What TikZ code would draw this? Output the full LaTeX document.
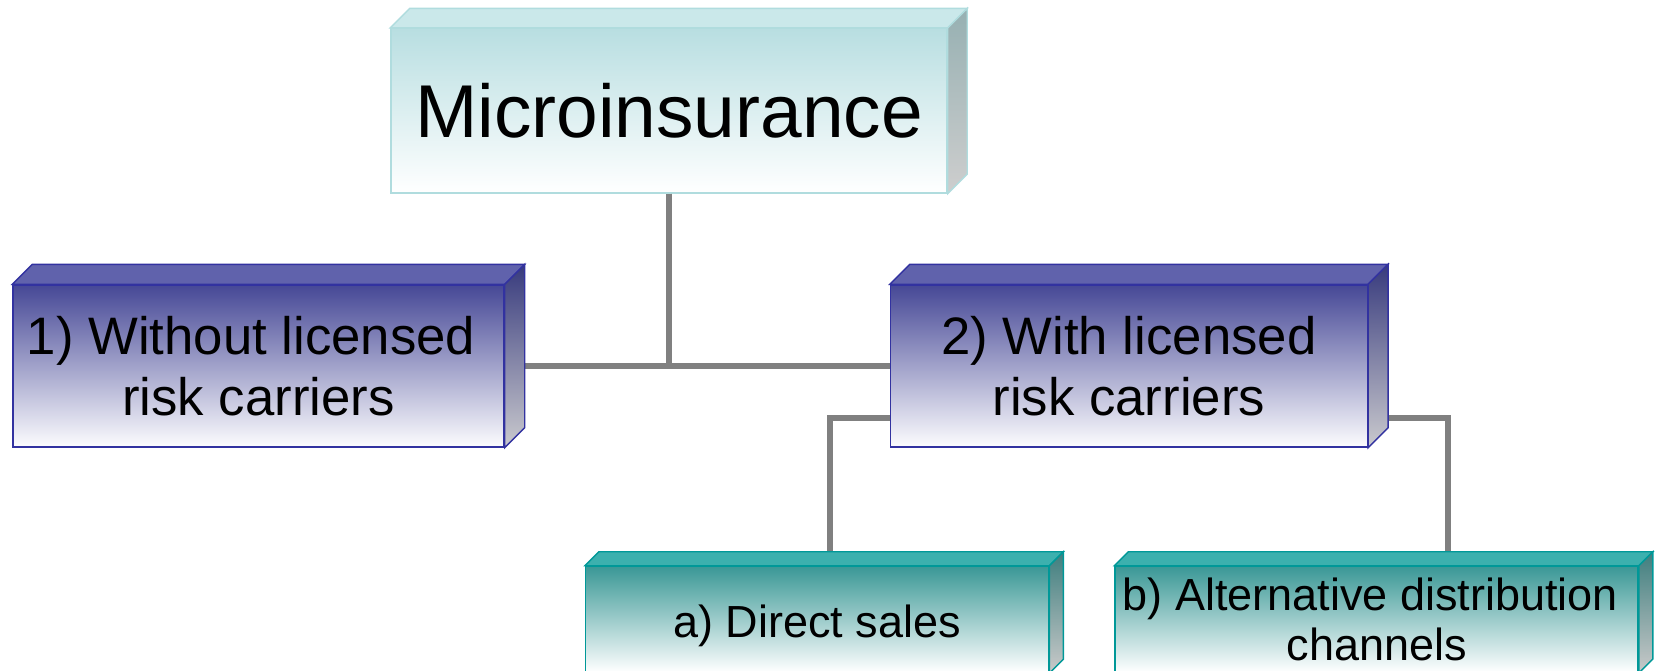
\documentclass[tikz,border=0pt]{standalone}
\usepackage{fontspec}
\setmainfont{Liberation Sans}
\usepackage{tikz}
\usetikzlibrary{positioning}

\definecolor{lighttop}{RGB}{184,222,225}
\definecolor{lightmid}{RGB}{222,240,241}
\definecolor{lightedge}{RGB}{176,220,222}
\definecolor{lightcap}{RGB}{202,232,234}
\definecolor{lightsideA}{RGB}{150,176,178}
\definecolor{lightsideB}{RGB}{206,206,206}
\definecolor{bluetop}{RGB}{70,72,150}
\definecolor{bluemid}{RGB}{198,198,224}
\definecolor{bluebottom}{RGB}{252,252,254}
\definecolor{blueedge}{RGB}{50,50,160}
\definecolor{bluecap}{RGB}{96,98,172}
\definecolor{bluesideA}{RGB}{55,58,125}
\definecolor{bluesideB}{RGB}{202,202,206}
\definecolor{tealtop}{RGB}{58,152,150}
\definecolor{tealmid}{RGB}{172,208,206}
\definecolor{tealedge}{RGB}{0,152,152}
\definecolor{tealcap}{RGB}{60,176,174}
\definecolor{tealsideA}{RGB}{62,126,126}
\definecolor{tealsideB}{RGB}{202,202,202}
\definecolor{linegray}{RGB}{128,128,128}

\begin{document}
\begin{tikzpicture}
 	\tikzstyle{box}=[rectangle, inner sep=0pt, align=center, line width=0.8pt]
 	\tikzstyle{mainbox}=[box, draw=lightedge, top color=lighttop, middle color=lightmid, bottom color=white, minimum width=11.12cm, minimum height=3.29cm, font=\fontsize{42.6}{50}\selectfont]
 	\tikzstyle{carrier}=[box, draw=blueedge, top color=bluetop, middle color=bluemid, bottom color=bluebottom, minimum height=3.24cm, font=\fontsize{30}{34.7}\selectfont]
 	\tikzstyle{channel}=[box, draw=tealedge, top color=tealtop, middle color=tealmid, bottom color=white, minimum height=2.12cm, font=\fontsize{25.6}{28.8}\selectfont]
 	\tikzstyle{connect}=[draw=linegray, line width=0.12cm]
 	\tikzstyle{maincap}=[fill=lightcap, draw=lightedge, line width=0.8pt]
 	\tikzstyle{mainside}=[top color=lightsideA, bottom color=lightsideB, draw=lightedge, line width=0.8pt]
 	\tikzstyle{carriercap}=[fill=bluecap, draw=blueedge, line width=0.8pt]
 	\tikzstyle{carrierside}=[top color=bluesideA, bottom color=bluesideB, draw=blueedge, line width=0.8pt]
 	\tikzstyle{channelcap}=[fill=tealcap, draw=tealedge, line width=0.8pt]
 	\tikzstyle{channelside}=[top color=tealsideA, bottom color=tealsideB, draw=tealedge, line width=0.8pt]
 	\useasboundingbox (0,0) rectangle (33.1,-13.42);
 	\clip (0,0) rectangle (33.1,-13.42);
 	\node[mainbox] (micro) at (13.38,-2.215) {Microinsurance};
 	\node[carrier, minimum width=9.82cm] (without) at (5.17,-7.32) {1) Without licensed\hspace*{0.3cm}\\risk carriers};
 	\node[carrier, minimum width=9.54cm] (with) [right=7.7cm of without] {2) With licensed\\risk carriers};
 	\node[channel, minimum width=9.26cm, text height=26pt, text depth=5.4pt] (direct) [below=2.36cm of with.south west, xshift=-1.45cm] {a) Direct sales};
 	\node[channel, minimum width=10.46cm] (alt) [right=1.3cm of direct] {b) Alternative distribution\hspace*{0.25cm}\\channels};
 	\draw[connect] (micro.south) |- (without.east);
 	\draw[connect] (micro.south) |- (with.west);
 	\draw[connect] ([yshift=0.6cm]with.south west) -| ([xshift=0.25cm]direct.north);
 	\draw[connect] ([yshift=0.6cm]with.south east) -| ([xshift=1.43cm]alt.north);
 	% top and side faces
 	\foreach \n/\d/\c/\s in {micro/0.39/maincap/mainside, without/0.4/carriercap/carrierside, with/0.4/carriercap/carrierside, direct/0.28/channelcap/channelside, alt/0.28/channelcap/channelside} {
 		\draw[\c] (\n.north west) -- ++(\d,\d) -- ([shift={(\d,\d)}]\n.north east) -- (\n.north east) -- cycle;
 		\draw[\s] (\n.north east) -- ++(\d,\d) -- ([shift={(\d,\d)}]\n.south east) -- (\n.south east) -- cycle;
 	}
\end{tikzpicture}
\end{document}
